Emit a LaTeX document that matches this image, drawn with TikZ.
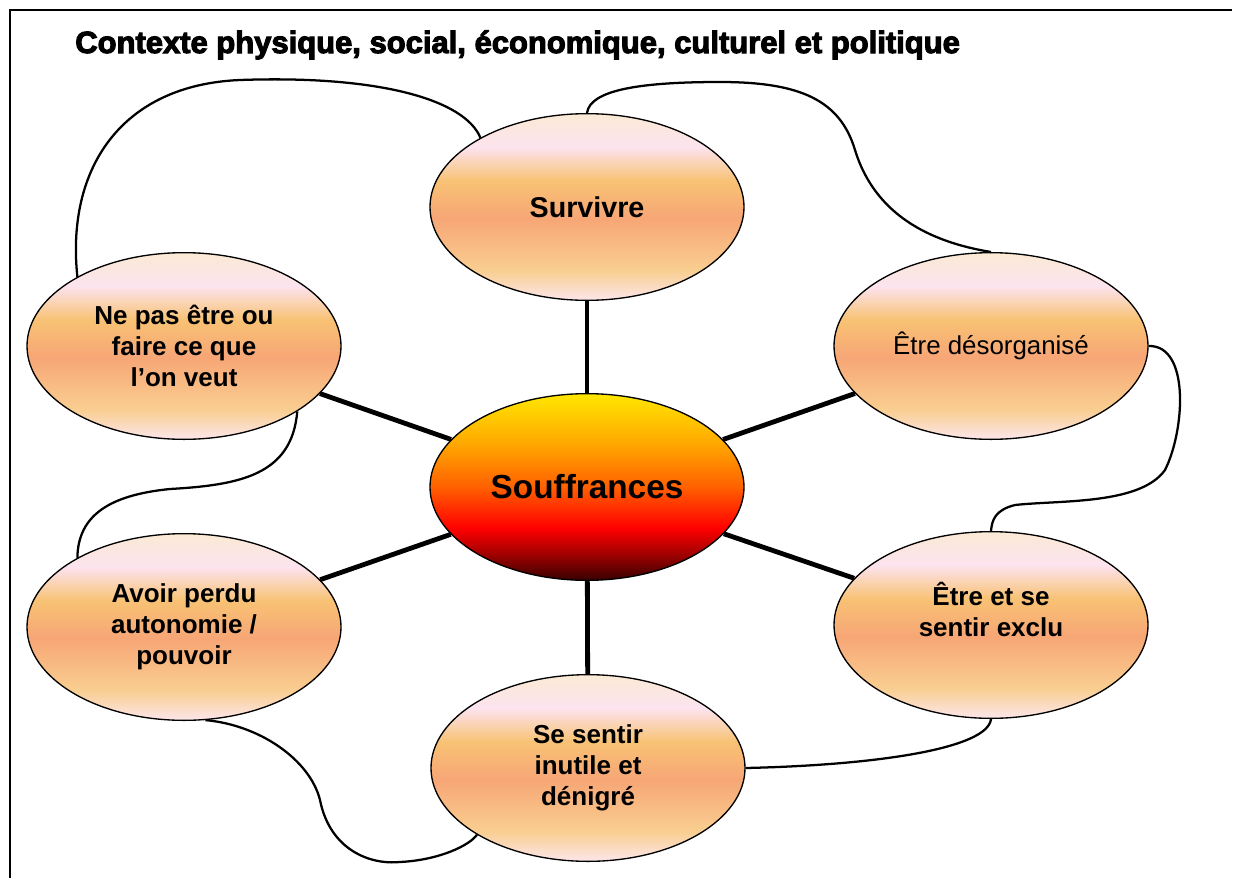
\documentclass[tikz,border=0pt]{standalone}
\usepackage{graphicx}
\usepackage{fontspec}
\setmainfont{Liberation Sans}
\newfontfamily\titlefont{Liberation Sans}[BoldFeatures={FakeBold=3.5}]
\usetikzlibrary{shapes.geometric}
\definecolor{ocream}{HTML}{FBEAD5}
\definecolor{opink}{HTML}{FCE3EE}
\definecolor{oorange}{HTML}{F8C274}
\definecolor{osalmon}{HTML}{F7A676}
\definecolor{olorange}{HTML}{F9CE90}
\definecolor{obpink}{HTML}{FCE6EA}
\definecolor{cyellow}{HTML}{FFE600}
\definecolor{corange}{HTML}{FFAA00}
\definecolor{cdorange}{HTML}{FF6000}
\definecolor{cred}{HTML}{FF0000}
\definecolor{cdred}{HTML}{A00000}
\definecolor{cblack}{HTML}{380000}
\pgfdeclareverticalshading{outershade}{100bp}{color(0bp)=(obpink); color(25bp)=(obpink); color(33bp)=(olorange); color(47bp)=(osalmon); color(57bp)=(oorange); color(66bp)=(opink); color(75bp)=(ocream); color(100bp)=(ocream)}
\pgfdeclareverticalshading{centershade}{100bp}{color(0bp)=(cblack); color(25bp)=(cblack); color(32bp)=(cdred); color(39bp)=(cred); color(50bp)=(cdorange); color(62bp)=(corange); color(75bp)=(cyellow); color(100bp)=(cyellow)}
\begin{document}
\begin{tikzpicture}[x=0.75pt,y=-0.75pt,
  bubble/.style={ellipse, draw=black, line width=1pt, minimum width=235.5pt, minimum height=140pt, inner sep=0pt, shade, shading=outershade, align=center, font=\fontsize{19.5}{23.25}\selectfont\bfseries},
  core/.style={ellipse, draw=black, line width=1pt, minimum width=235.5pt, minimum height=140pt, inner sep=0pt, shade, shading=centershade, font=\fontsize{25}{30}\selectfont\bfseries},
  spoke/.style={line width=3.6pt},
  loopline/.style={line width=1.7pt},
  frameline/.style={line width=1.5pt}]
\useasboundingbox (0,0) rectangle (1238,878);
\coordinate (fa) at (1232,10);
\coordinate (fb) at (10,10);
\coordinate (fc) at (10,878);
\draw[frameline] (fa) -- (fb) -- (fc);
\node[anchor=base west, inner sep=0pt, font=\fontsize{23}{27}\selectfont\titlefont\bfseries] (title) at (75,53) {\scalebox{1.01}[1]{Contexte physique, social, économique, culturel et politique}};

\node[bubble, font=\fontsize{21.5}{26}\selectfont\bfseries] (sur) at (587,207) {Survivre};
\node[core] (souf) at (587,487) {Souffrances};
\node[bubble, font=\fontsize{19.4}{23.25}\selectfont] (des) at (991,346) {Être désorganisé};
\node[bubble] (exc) at (991,625) {Être et se\\sentir exclu\\~};
\node[bubble] (inu) at (588,768) {Se sentir\\inutile et\\dénigré};
\node[bubble] (per) at (184,627) {Avoir perdu\\autonomie /\\pouvoir};
\node[bubble] (nep) at (184,346) {Ne pas être ou\\faire ce que\\l’on veut};

\draw[spoke] (souf) -- (sur);
\draw[spoke] (souf) -- (des);
\draw[spoke] (souf) -- (exc);
\draw[spoke] (souf) -- (inu);
\draw[spoke] (souf) -- (per);
\draw[spoke] (souf) -- (nep);

\draw[loopline] (nep.147) .. controls (66,170) and (120,85) .. (240,80) .. controls (380,75) and (465,100) .. (sur.147);
\draw[loopline] (sur.north) .. controls (590,90) and (640,82) .. (720,82) .. controls (800,82) and (840,100) .. (855,150) .. controls (875,215) and (930,242) .. (des.north);
\draw[loopline] (des.east) .. controls (1190,345) and (1185,430) .. (1165,470) .. controls (1140,505) and (1060,500) .. (1015,505) .. controls (995,510) and (992,520) .. (exc.north);
\draw[loopline] (exc.south) .. controls (988,748) and (880,765) .. (inu.east);
\draw[loopline] (per.283) .. controls (260,725) and (310,760) .. (320,800) .. controls (330,850) and (370,865) .. (400,862) .. controls (440,860) and (470,845) .. (inu.211);
\draw[loopline] (per.147) .. controls (78,515) and (110,495) .. (170,489) .. controls (240,485) and (292,475) .. (nep.330);
\end{tikzpicture}
\end{document}
